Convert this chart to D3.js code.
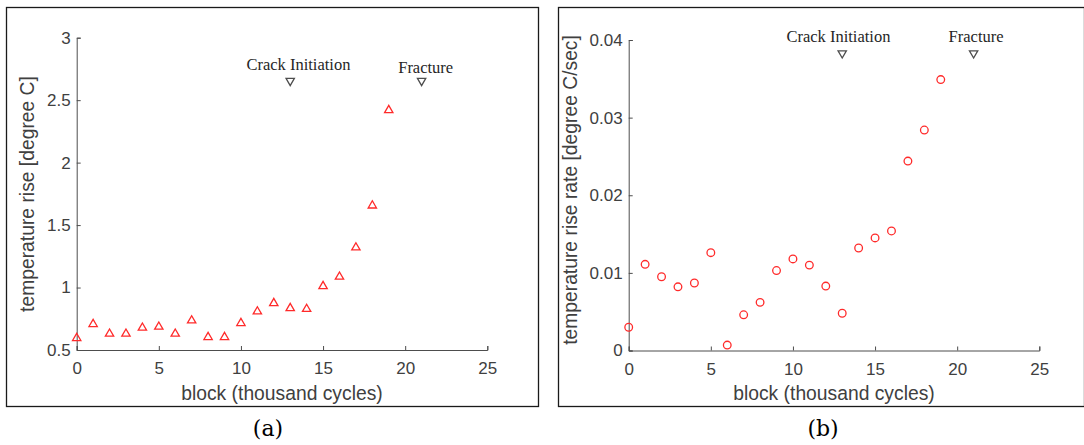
<!DOCTYPE html>
<html>
<head>
<meta charset="utf-8">
<script src="https://cdn.jsdelivr.net/npm/d3@7"></script>
<style>
  html, body { margin: 0; padding: 0; background: #fff; }
  svg { display: block; }
  .tick text { font-family: "Liberation Sans", Arial, sans-serif; font-size: 17px; fill: #404040; }
  .axis-label { font-family: "Liberation Sans", Arial, sans-serif; font-size: 19.3px; fill: #404040; }
  .note { font-family: "Liberation Serif", "Times New Roman", serif; font-size: 16.5px; fill: #262626; }
  .caption { font-family: "DejaVu Serif", "Liberation Serif", serif; font-size: 22px; fill: #000; }
</style>
</head>
<body>
<svg id="fig" width="1084" height="445"></svg>
<script>
// Fatigue test: block number (thousand cycles)
const blocks = [0, 1, 2, 3, 4, 5, 6, 7, 8, 9, 10, 11, 12, 13, 14, 15, 16, 17, 18, 19];

// (a) temperature rise [degree C]
const tempRise = [0.595, 0.707, 0.63, 0.63, 0.678, 0.686, 0.63, 0.736, 0.603, 0.603,
                  0.715, 0.808, 0.875, 0.835, 0.828, 1.011, 1.086, 1.32, 1.656, 2.42];

// (b) temperature rise rate [degree C/sec]
const tempRate = [0.0030, 0.0111, 0.0095, 0.0082, 0.0087, 0.0126, 0.0007, 0.0046, 0.0062, 0.0103,
                  0.0118, 0.0110, 0.0083, 0.0048, 0.0132, 0.0145, 0.0154, 0.0244, 0.0284, 0.0349];

// Event markers
const eventNames = ["Crack Initiation", "Fracture"];
const eventBlocks = [13, 21];

// Tick labels
const xTicks = [0, 5, 10, 15, 20, 25];
const yTicksA = [0.5, 1, 1.5, 2, 2.5, 3];
const yTicksALabels = ["0.5", "1", "1.5", "2", "2.5", "3"];
const yTicksB = [0, 0.01, 0.02, 0.03, 0.04];
const yTicksBLabels = ["0", "0.01", "0.02", "0.03", "0.04"];

const svg = d3.select("#fig");
const red = "#ff2a2a";
const axisGrey = "#4d4d4d";

function panel(cfg) {
  const g = svg.append("g");

  // frame around the panel
  g.append("rect")
    .attr("x", cfg.frame[0]).attr("y", cfg.frame[1])
    .attr("width", cfg.frame[2]).attr("height", cfg.frame[3])
    .attr("fill", "none").attr("stroke", "#1a1a1a").attr("stroke-width", 1.3);

  const x = d3.scaleLinear().domain([0, 25]).range(cfg.xRange);
  const y = d3.scaleLinear().domain(cfg.yDomain).range(cfg.yRange);

  // axes with inward ticks
  const xAxis = d3.axisBottom(x).tickValues(xTicks).tickSizeInner(-4).tickSizeOuter(-4).tickPadding(12)
    .tickFormat(d3.format("d"));
  const yAxis = d3.axisLeft(y).tickValues(cfg.yTicks).tickSizeInner(-4).tickSizeOuter(-4).tickPadding(6)
    .tickFormat((d, i) => cfg.yLabels[i]);

  const gx = g.append("g").attr("transform", `translate(0,${cfg.yRange[0]})`).call(xAxis);
  const gy = g.append("g").attr("transform", `translate(${cfg.xRange[0]},0)`).call(yAxis);
  [gx, gy].forEach(a => {
    a.selectAll("path.domain").attr("stroke", axisGrey).attr("stroke-width", 1);
    a.selectAll(".tick line").attr("stroke", axisGrey);
  });
  gx.selectAll(".tick text").attr("dy", "0.71em");

  // axis titles
  g.append("text").attr("class", "axis-label")
    .attr("x", x(12.5)).attr("y", cfg.xLabelY)
    .attr("text-anchor", "middle").text("block (thousand cycles)");
  g.append("text").attr("class", "axis-label")
    .attr("transform", `translate(${cfg.yLabelX},${cfg.yLabelMid}) rotate(-90)`)
    .attr("text-anchor", "middle").text(cfg.yTitle);

  // data markers
  const sym = d3.symbol().type(cfg.symbol).size(cfg.symbolSize);
  g.append("g").selectAll("path")
    .data(blocks.map((b, i) => [b, cfg.values[i]]))
    .join("path")
    .attr("transform", d => `translate(${x(d[0])},${y(d[1])})`)
    .attr("d", sym)
    .attr("fill", "none").attr("stroke", red).attr("stroke-width", 1.3);

  // event markers (downward triangles) with labels
  const tri = d3.symbol().type(d3.symbolTriangle).size(30);
  eventBlocks.forEach((b, i) => {
    g.append("path")
      .attr("transform", `translate(${x(b)},${y(cfg.eventY)}) rotate(180)`)
      .attr("d", tri)
      .attr("fill", "none").attr("stroke", "#4d4d4d").attr("stroke-width", 1.3);
    g.append("text").attr("class", "note")
      .attr("x", x(cfg.noteX[i])).attr("y", y(cfg.noteY[i]))
      .attr("text-anchor", "middle").text(eventNames[i]);
  });

  // panel caption
  svg.append("text").attr("class", "caption")
    .attr("x", cfg.captionX).attr("y", 436)
    .attr("text-anchor", "middle").text(cfg.caption);
}

panel({
  frame: [6.5, 7.5, 532, 399],
  xRange: [76.7, 487.3],
  yDomain: [0.5, 3], yRange: [350, 37.7],
  yTicks: yTicksA, yLabels: yTicksALabels,
  yTitle: "temperature rise [degree C]",
  xLabelY: 400, yLabelX: 34, yLabelMid: 194,
  values: tempRise,
  symbol: d3.symbolTriangle, symbolSize: 30,
  eventY: 2.655,
  noteX: [13.5, 21.25], noteY: [2.745, 2.72],
  caption: "(a)", captionX: 268
});

panel({
  frame: [558.5, 7.5, 526, 399],
  xRange: [628.7, 1039.3],
  yDomain: [0, 0.04], yRange: [350.5, 40],
  yTicks: yTicksB, yLabels: yTicksBLabels,
  yTitle: "temperature rise rate [degree C/sec]",
  xLabelY: 400, yLabelX: 577, yLabelMid: 190,
  values: tempRate,
  symbol: d3.symbolCircle, symbolSize: 46,
  eventY: 0.0383,
  noteX: [12.77, 21.15], noteY: [0.0398, 0.0397],
  caption: "(b)", captionX: 823
});
</script>
</body>
</html>
